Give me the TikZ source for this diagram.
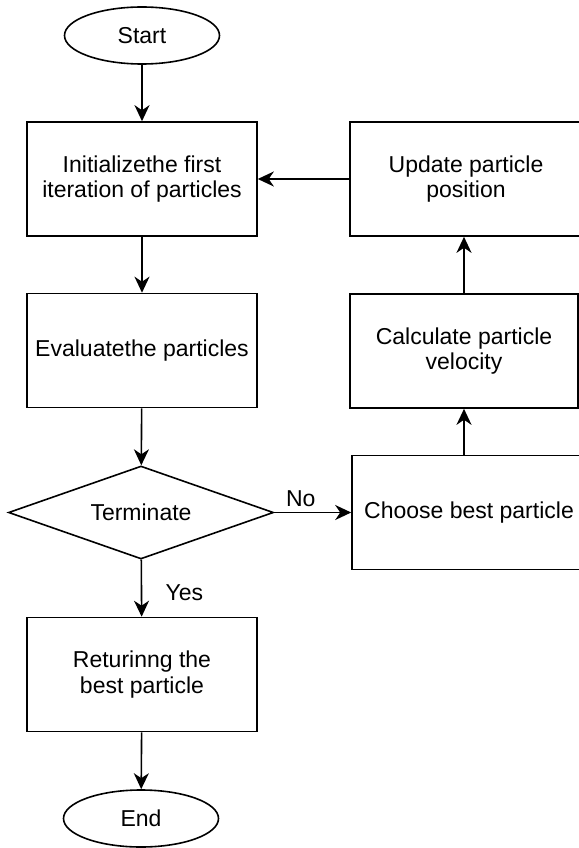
\documentclass[tikz,border=0pt]{standalone}
\usepackage{fontspec}
\setmainfont{Liberation Sans}
\usetikzlibrary{shapes.geometric,arrows.meta}
\tikzset{
  flowbox/.style   = {draw, line width=1.6pt, minimum width=230pt, minimum height=114pt, align=center},
  flowterm/.style  = {draw, ellipse, line width=1.6pt, minimum width=155pt, minimum height=57pt, inner sep=0pt},
  flowtest/.style  = {draw, diamond, line width=1.6pt, aspect=2.85, minimum width=265pt, minimum height=93pt, inner sep=0pt},
  flowarrow/.style = {line width=1.6pt, -{Stealth[length=16pt,width=15pt,inset=5pt]}}
}
\begin{document}
\begin{tikzpicture}[x=1pt, y=-1pt, font=\fontsize{23}{25.5}\selectfont]
\useasboundingbox (0,0) rectangle (578,848);
% left column
\node[flowterm] (start) at (142,35.5) {Start};
\node[flowbox]  (init)  at (142,179)  {Initializethe first\\iteration of particles};
\node[flowbox]  (eval)  at (142,350.5){Evaluatethe particles};
\node[flowtest] (term)  at (141,512.5){Terminate};
\node[flowbox]  (ret)   at (142,674.5){Returinng the\\best particle};
\node[flowterm] (stop)  at (141,818.5){End};
% right column (cut off by the page edge)
\node[flowbox, minimum width=260pt] (upd)  at (480,179)  {\hspace*{-28pt}Update particle\\\hspace*{-28pt}position};
\node[flowbox, minimum width=228pt] (vel)  at (464,351)  {Calculate particle\\velocity};
\node[flowbox, minimum width=260pt] (best) at (482,512.5){\hspace*{-26pt}Choose best particle};
% connectors
\draw[flowarrow] (start) -- (init);
\draw[flowarrow] (init) -- (eval);
\draw[flowarrow] (eval) -- (term);
\draw[flowarrow] (term) -- node[right, xshift=20pt, yshift=-4pt] {Yes} (ret);
\draw[flowarrow] (ret) -- (stop);
\draw[flowarrow] (term.east) -- node[above, xshift=-12pt, yshift=2pt] {No} (best.west);
\draw[flowarrow] (best.north -| vel) -- (vel.south);
\draw[flowarrow] (vel.north) -- (upd.south -| vel);
\draw[flowarrow] (upd.west) -- (init.east);
\end{tikzpicture}
\end{document}
